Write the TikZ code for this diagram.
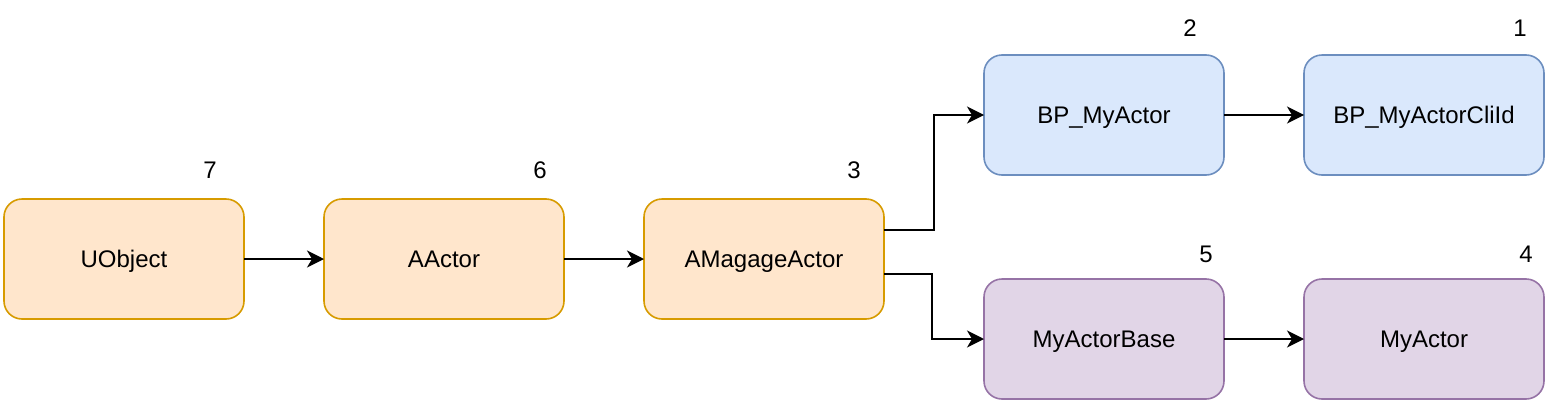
\documentclass[tikz,border=0pt]{standalone}
\usepackage{fontspec}
\setmainfont{Liberation Sans}
\usetikzlibrary{positioning,arrows.meta,calc}
\definecolor{orfill}{HTML}{FFE6CC}
\definecolor{ordraw}{HTML}{D79B00}
\definecolor{blfill}{HTML}{DAE8FC}
\definecolor{bldraw}{HTML}{6C8EBF}
\definecolor{pufill}{HTML}{E1D5E7}
\definecolor{pudraw}{HTML}{9673A6}
\tikzstyle{cbox}=[rectangle, rounded corners=9pt, line width=0.8pt,
                  minimum width=120pt, minimum height=60pt, inner sep=2pt,
                  outer sep=0pt, text centered, text depth=0pt,
                  font=\fontsize{12pt}{14pt}\selectfont]
\tikzstyle{obox}=[cbox, draw=ordraw, fill=orfill]
\tikzstyle{bbox}=[cbox, draw=bldraw, fill=blfill]
\tikzstyle{pbox}=[cbox, draw=pudraw, fill=pufill]
\tikzstyle{numtxt}=[inner sep=0pt, font=\fontsize{12pt}{14pt}\selectfont]
\tikzstyle{pline}=[-{Stealth[length=8.5pt,width=8.5pt,inset=2.5pt]}, line width=0.8pt]

\begin{document}
\begin{tikzpicture}[node distance=0mm]
\useasboundingbox (0,0) rectangle (779.5pt,-201pt);

\node (UOBJ) [obox] at (62pt,-129.5pt) {UObject};
\node (AACTOR) [obox,
right=40pt of UOBJ] {AActor};
\node (AMAGE) [obox,
right=40pt of AACTOR] {AMagageActor};
\node (BPACT) [bbox,
right=50pt of AMAGE, yshift=72pt] {BP\_MyActor};
\node (BPCHILD) [bbox,
right=40pt of BPACT] {BP\_MyActorCliId};
\node (MABASE) [pbox,
right=50pt of AMAGE, yshift=-40pt] {MyActorBase};
\node (MYACT) [pbox,
right=40pt of MABASE] {MyActor};

\node (N7) [numtxt] at ($(UOBJ.north east)+(-17pt,14.5pt)$) {7};
\node (N6) [numtxt] at ($(AACTOR.north east)+(-12pt,14.5pt)$) {6};
\node (N3) [numtxt] at ($(AMAGE.north east)+(-15pt,14.5pt)$) {3};
\node (N2) [numtxt] at ($(BPACT.north east)+(-17pt,13.5pt)$) {2};
\node (N1) [numtxt] at ($(BPCHILD.north east)+(-12pt,13.5pt)$) {1};
\node (N5) [numtxt] at ($(MABASE.north east)+(-9pt,12.5pt)$) {5};
\node (N4) [numtxt] at ($(MYACT.north east)+(-9pt,12.5pt)$) {4};

 \draw[pline]   (UOBJ.east) -- (AACTOR.west) ;
 \draw[pline]   (AACTOR.east) -- (AMAGE.west) ;
 \draw[pline]   ([yshift=14.5pt]AMAGE.east) -- ++(25pt,0) |- (BPACT.west) ;
 \draw[pline]   ([yshift=-7.5pt]AMAGE.east) -- ++(24pt,0) |- (MABASE.west) ;
 \draw[pline]   (BPACT.east) -- (BPCHILD.west) ;
 \draw[pline]   (MABASE.east) -- (MYACT.west) ;

\end{tikzpicture}
\end{document}
